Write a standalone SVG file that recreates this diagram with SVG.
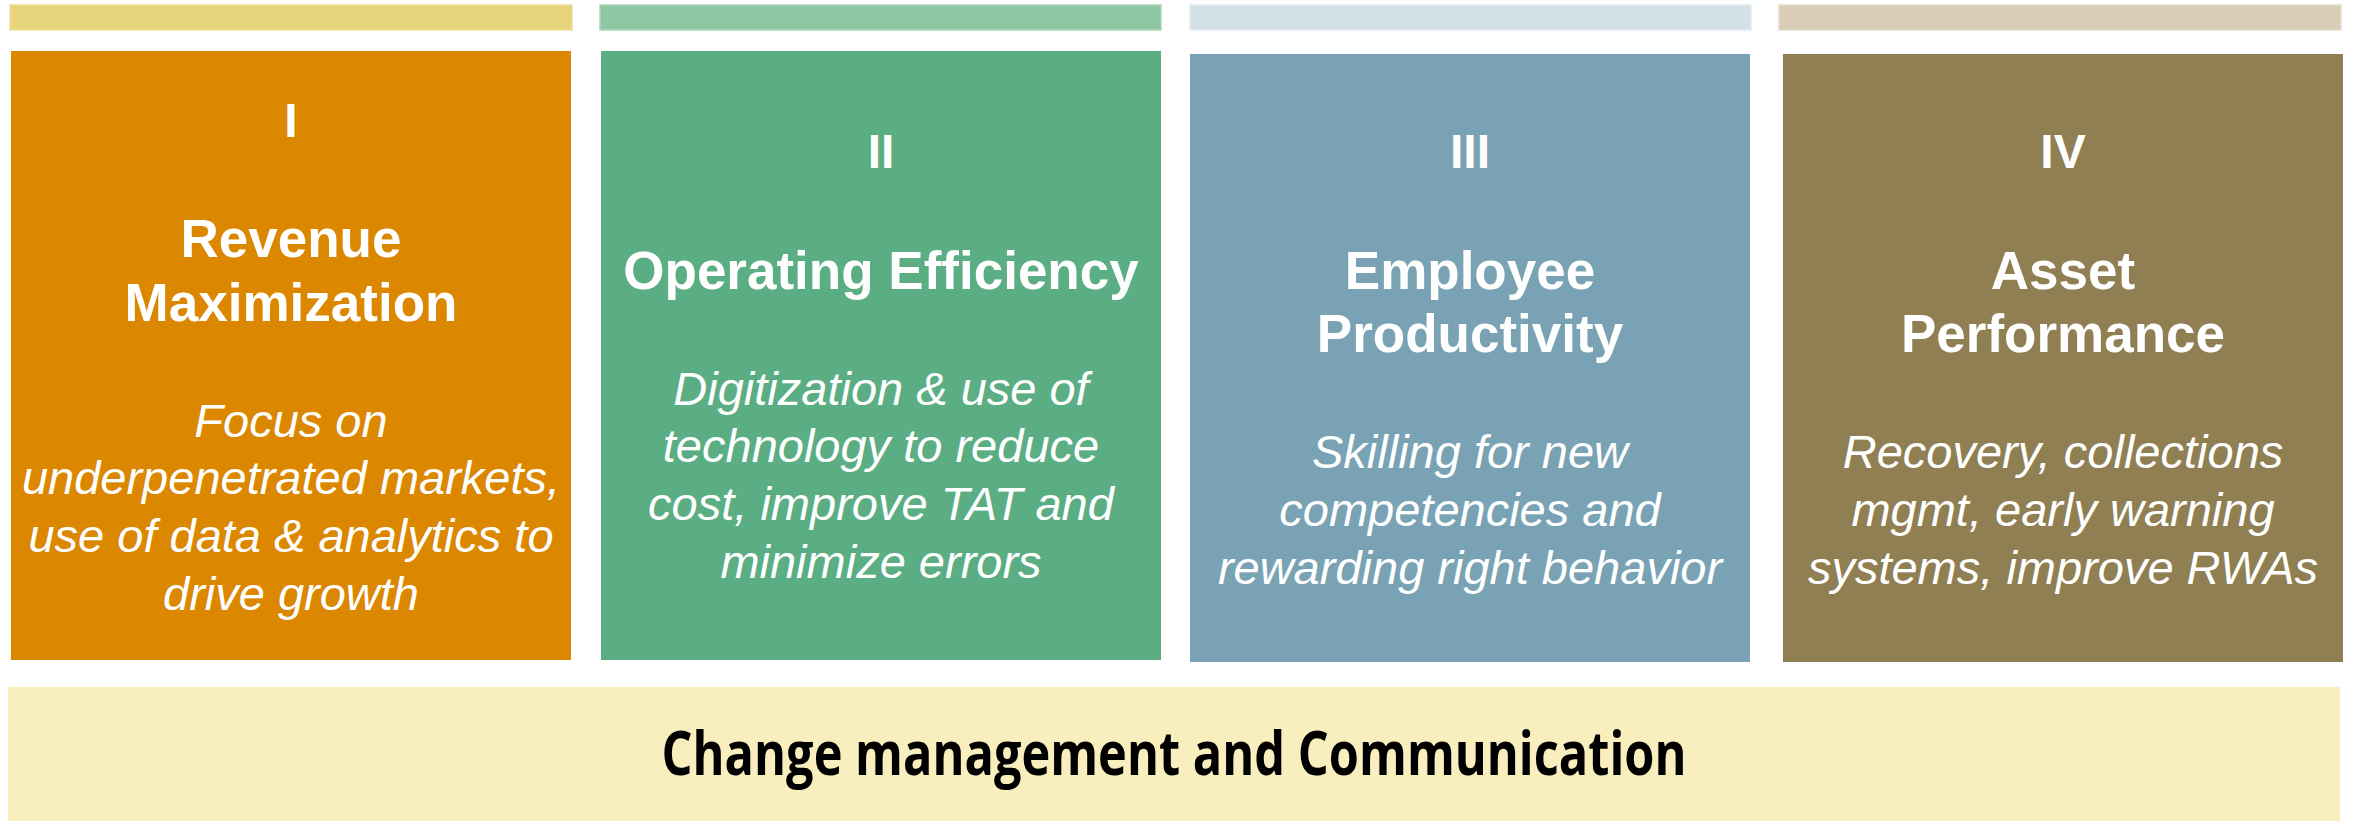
<svg xmlns="http://www.w3.org/2000/svg" width="2357" height="821" viewBox="0 0 2357 821">
  <style>
    .bar { stroke-width: 1.5; }
    .num { font-family: "Liberation Sans", Arial, sans-serif; font-weight: 700; font-size: 48px; fill: #ffffff; text-anchor: middle; }
    .title { font-family: "Liberation Sans", Arial, sans-serif; font-weight: 700; font-size: 53px; fill: #ffffff; text-anchor: middle; }
    .desc { font-family: "Liberation Sans", Arial, sans-serif; font-style: italic; font-size: 47px; fill: #ffffff; text-anchor: middle; }
    .base { font-family: "Open Sans", "Noto Sans", sans-serif; font-weight: 700; font-size: 61px; fill: #000000; text-anchor: middle; }
  </style>
  <rect width="2357" height="821" fill="#ffffff"/>

  <!-- Pillar I -->
  <g id="pillar-1">
    <rect class="bar" x="10" y="5" width="562" height="25" fill="#E7D47A" stroke="#EEDF9C"/>
    <rect x="11" y="51" width="560" height="609" fill="#DB8700"/>
    <text class="num" x="291" y="137">I</text>
    <text class="title" x="291" y="257">Revenue</text>
    <text class="title" x="291" y="321">Maximization</text>
    <text class="desc" x="291" y="437">Focus on</text>
    <text class="desc" x="291" y="494">underpenetrated markets,</text>
    <text class="desc" x="291" y="552">use of data &amp; analytics to</text>
    <text class="desc" x="291" y="610">drive growth</text>
  </g>

  <!-- Pillar II -->
  <g id="pillar-2">
    <rect class="bar" x="600" y="5" width="561" height="25" fill="#8FC7A2" stroke="#ADD5BA"/>
    <rect x="601" y="51" width="560" height="609" fill="#5BAE83"/>
    <text class="num" x="881" y="168">II</text>
    <text class="title" x="881" y="289">Operating Efficiency</text>
    <text class="desc" x="881" y="405">Digitization &amp; use of</text>
    <text class="desc" x="881" y="462">technology to reduce</text>
    <text class="desc" x="881" y="520">cost, improve TAT and</text>
    <text class="desc" x="881" y="578">minimize errors</text>
  </g>

  <!-- Pillar III -->
  <g id="pillar-3">
    <rect class="bar" x="1190" y="5" width="561" height="25" fill="#D3E0E6" stroke="#E2EBEF"/>
    <rect x="1190" y="54" width="560" height="608" fill="#79A3B4"/>
    <text class="num" x="1470" y="168">III</text>
    <text class="title" x="1470" y="289">Employee</text>
    <text class="title" x="1470" y="352">Productivity</text>
    <text class="desc" x="1470" y="468">Skilling for new</text>
    <text class="desc" x="1470" y="526">competencies and</text>
    <text class="desc" x="1470" y="584">rewarding right behavior</text>
  </g>

  <!-- Pillar IV -->
  <g id="pillar-4">
    <rect class="bar" x="1779" y="5" width="562" height="25" fill="#D9CDB6" stroke="#E5DCCB"/>
    <rect x="1783" y="54" width="560" height="608" fill="#8F7F52"/>
    <text class="num" x="2063" y="168">IV</text>
    <text class="title" x="2063" y="289">Asset</text>
    <text class="title" x="2063" y="352">Performance</text>
    <text class="desc" x="2063" y="468">Recovery, collections</text>
    <text class="desc" x="2063" y="526">mgmt, early warning</text>
    <text class="desc" x="2063" y="584">systems, improve RWAs</text>
  </g>

  <!-- Foundation band -->
  <g id="foundation">
    <rect x="8" y="687" width="2332" height="134" fill="#F8EEBE"/>
    <text class="base" x="1174" y="775" textLength="1025" lengthAdjust="spacingAndGlyphs">Change management and Communication</text>
  </g>

  <g id="connectors"/>
</svg>
